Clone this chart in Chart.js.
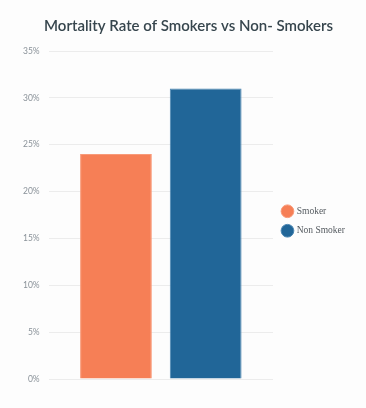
<!DOCTYPE html>
<html>
<head>
<meta charset="utf-8">
<script src="https://cdn.jsdelivr.net/npm/chart.js@4"></script>
<style>
    html, body { margin: 0; padding: 0; background: #fdfdfd; }
    #wrap { width: 366px; height: 408px; position: relative; }
</style>
</head>
<body>
<div id="wrap"><canvas id="mortalityChart"></canvas></div>
<script>
// Data
const categories = [''];
const seriesNames = ['Smoker', 'Non Smoker'];
const smokerValues = [24];
const nonSmokerValues = [31];
const yTicks = [0, 5, 10, 15, 20, 25, 30, 35];

const seriesColors = ['#f67f56', '#216698'];

// Small nudges so legend and title sit where the reference has them
const layoutNudge = {
    id: 'layoutNudge',
    afterLayout(chart) {
        chart.legend.top += 25;
        chart.legend.bottom += 25;
        chart.titleBlock.left += 4;
        chart.titleBlock.right += 4;
    }
};

document.addEventListener('DOMContentLoaded', function () {
    const ctx = document.getElementById('mortalityChart').getContext('2d');

    new Chart(ctx, {
        type: 'bar',
        data: {
            labels: categories,
            datasets: [
                {
                    label: seriesNames[0],
                    backgroundColor: seriesColors[0],
                    borderColor: '#f89a79',
                    borderWidth: 1,
                    data: smokerValues
                },
                {
                    label: seriesNames[1],
                    backgroundColor: seriesColors[1],
                    borderColor: '#4b86b2',
                    borderWidth: 1,
                    data: nonSmokerValues
                }
            ]
        },
        options: {
            responsive: true,
            maintainAspectRatio: false,
            animation: false,
            barPercentage: 0.8,
            categoryPercentage: 0.8,
            layout: {
                padding: { top: 5, left: 14, right: 11, bottom: 21 }
            },
            scales: {
                x: {
                    ticks: { display: false },
                    grid: { display: false },
                    border: { display: false }
                },
                y: {
                    min: yTicks[0],
                    max: yTicks[yTicks.length - 1],
                    afterBuildTicks: function (axis) {
                        axis.ticks = yTicks.map(v => ({ value: v }));
                    },
                    ticks: {
                        padding: 9,
                        color: '#8a9299',
                        font: { family: 'Lato', size: 8.5 },
                        callback: v => v + '%'
                    },
                    grid: {
                        color: '#ececec',
                        drawTicks: false
                    },
                    border: { display: false }
                }
            },
            plugins: {
                title: {
                    display: true,
                    text: 'Mortality Rate of Smokers vs Non- Smokers',
                    color: '#36454d',
                    font: { family: 'Lato', size: 15, weight: '600' },
                    padding: { top: 12, bottom: 16 }
                },
                legend: {
                    position: 'right',
                    labels: {
                        usePointStyle: true,
                        pointStyle: 'circle',
                        boxWidth: 9,
                        boxHeight: 9,
                        padding: 10,
                        color: '#555b60',
                        font: { family: 'Liberation Serif', size: 9.5 }
                    }
                },
                tooltip: { enabled: false }
            }
        },
        plugins: [layoutNudge]
    });
});
</script>
</body>
</html>
